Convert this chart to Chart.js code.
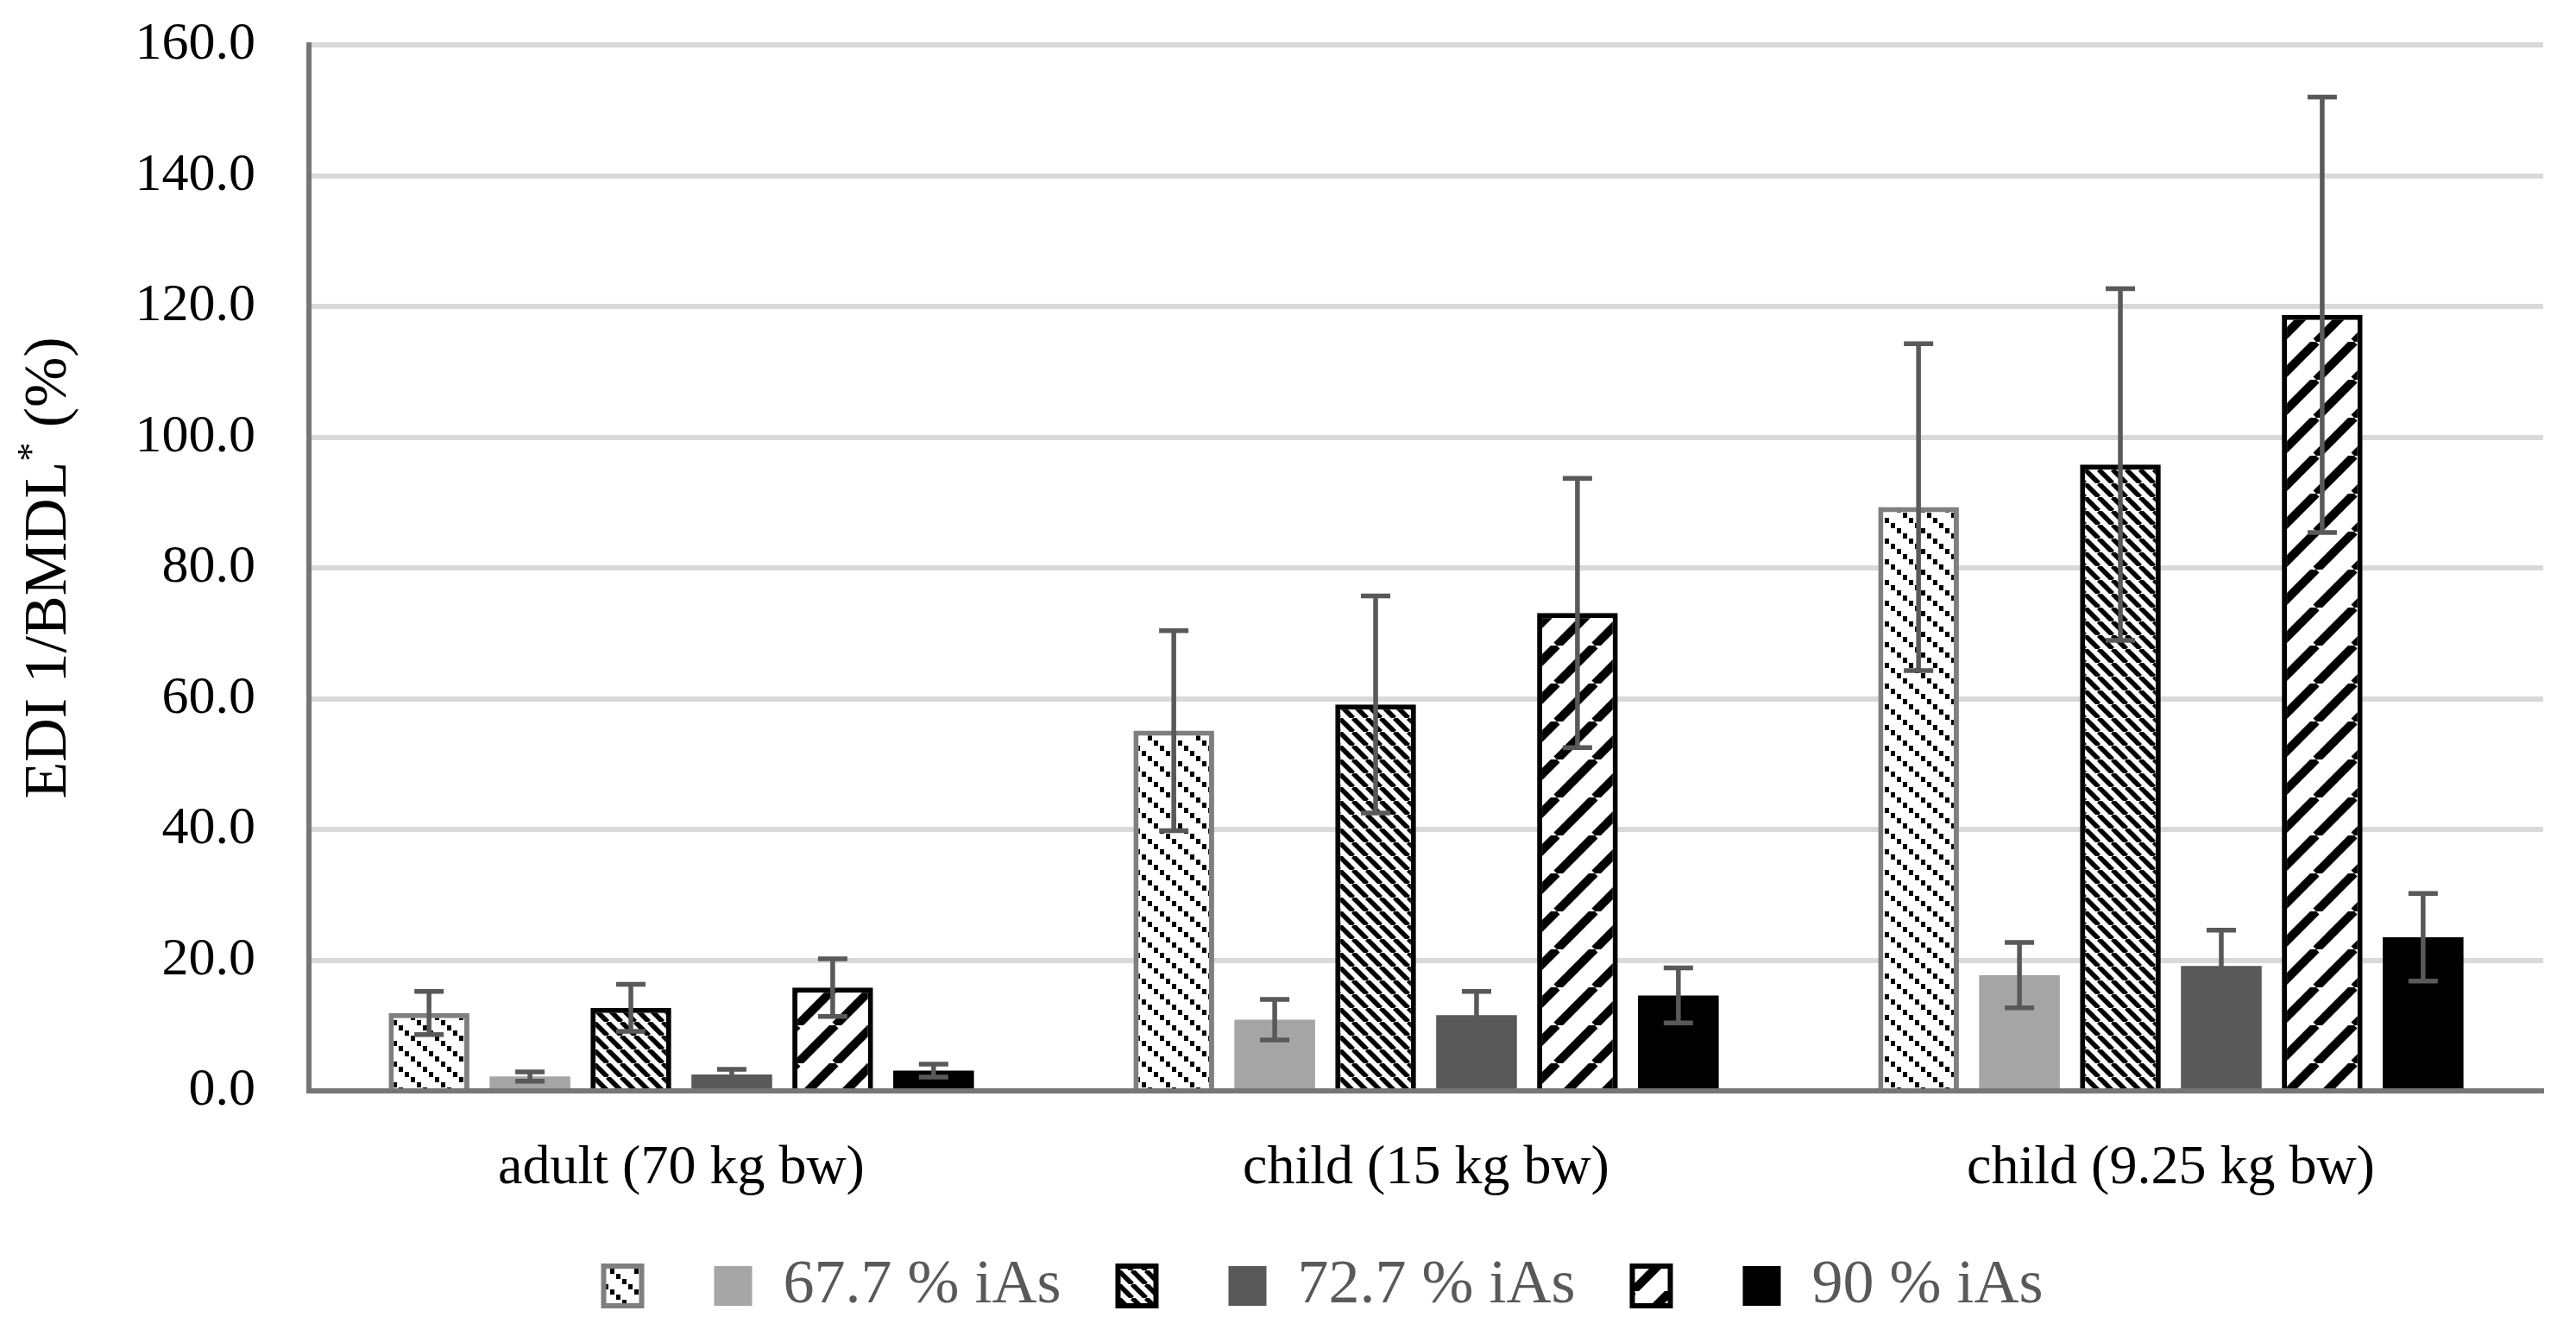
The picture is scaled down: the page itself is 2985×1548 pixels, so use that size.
<!DOCTYPE html>
<html>
<head>
<meta charset="utf-8">
<script src="https://cdn.jsdelivr.net/npm/chart.js@4.4.1/dist/chart.umd.min.js"></script>
<style>
  html, body { margin: 0; padding: 0; background: #fff; }
  #wrap { width: 2985px; height: 1548px; }
</style>
</head>
<body>
<div id="wrap"><canvas id="chart" width="2985" height="1548"></canvas></div>
<script>
// Categories and series
const categories = ['adult (70 kg bw)', 'child (15 kg bw)', 'child (9.25 kg bw)'];
const seriesLabels = ['', '67.7 % iAs ', '', '72.7 % iAs ', '', '90 % iAs'];

const edi1Low = [11.9, 55.1, 89.3];
const edi1LowErr = [3.3, 15.3, 25.0];
const iAs677 = [2.2, 10.9, 17.7];
const iAs677Err = [0.7, 3.1, 5.0];
const edi1Mid = [12.7, 59.1, 95.8];
const edi1MidErr = [3.6, 16.6, 26.9];
const iAs727 = [2.5, 11.6, 19.1];
const iAs727Err = [0.8, 3.6, 5.5];
const edi1High = [15.8, 73.1, 118.7];
const edi1HighErr = [4.4, 20.6, 33.3];
const iAs90 = [3.1, 14.6, 23.5];
const iAs90Err = [1.0, 4.2, 6.7];

const yTicks = [0, 20, 40, 60, 80, 100, 120, 140, 160];

const FONT = "'Liberation Serif', 'DejaVu Serif', serif";

// Pattern fills
function makeTile(w, h, draw) {
    const c = document.createElement('canvas');
    c.width = w;
    c.height = h;
    const t = c.getContext('2d');
    t.fillStyle = '#fff';
    t.fillRect(0, 0, w, h);
    t.fillStyle = '#000';
    t.strokeStyle = '#000';
    draw(t, w, h);
    return document.getElementById('chart').getContext('2d').createPattern(c, 'repeat');
}

// dotted downward diagonal
const dottedDown = makeTile(28, 24, function(t) {
    t.fillRect(0, 0, 5, 6);
    t.fillRect(7, 6, 5, 6);
    t.fillRect(14, 12, 5, 6);
    t.fillRect(21, 18, 5, 6);
});

// dark downward diagonal
const darkDown = makeTile(16, 16, function(t, s) {
    t.lineWidth = 5.6;
    [-s, 0, s].forEach(function(x0) {
        t.beginPath();
        t.moveTo(x0, 0);
        t.lineTo(x0 + s, s);
        t.stroke();
    });
});

// wide upward diagonal
const wideUp = makeTile(44, 44, function(t, s) {
    t.lineWidth = 10;
    [-s, 0, s].forEach(function(x0) {
        t.beginPath();
        t.moveTo(x0, s);
        t.lineTo(x0 + s, 0);
        t.stroke();
    });
});

const errorsByDataset = [edi1LowErr, iAs677Err, edi1MidErr, iAs727Err, edi1HighErr, iAs90Err];

// Error bars drawn from the values through the y scale
const errorBarPlugin = {
    id: 'errorBars',
    afterDatasetsDraw(chart) {
        const ctx = chart.ctx;
        const yScale = chart.scales.y;
        ctx.save();
        ctx.strokeStyle = '#595959';
        ctx.lineWidth = 5.5;
        chart.data.datasets.forEach(function(ds, i) {
            const meta = chart.getDatasetMeta(i);
            const errs = errorsByDataset[i];
            meta.data.forEach(function(bar, j) {
                const v = ds.data[j];
                const top = yScale.getPixelForValue(v + errs[j]);
                const bottom = yScale.getPixelForValue(Math.max(0, v - errs[j]));
                const half = 17;
                ctx.beginPath();
                ctx.moveTo(bar.x, top);
                ctx.lineTo(bar.x, bottom);
                ctx.moveTo(bar.x - half, top);
                ctx.lineTo(bar.x + half, top);
                ctx.moveTo(bar.x - half, bottom);
                ctx.lineTo(bar.x + half, bottom);
                ctx.stroke();
            });
        });
        ctx.restore();
    }
};

// Y axis title with superscript asterisk
const yTitlePlugin = {
    id: 'yTitle',
    afterDraw(chart) {
        const ctx = chart.ctx;
        const area = chart.chartArea;
        const main = 'EDI 1/BMDL';
        const star = '*';
        const rest = ' (%)';
        ctx.save();
        ctx.translate(58, (area.top + area.bottom) / 2);
        ctx.rotate(-Math.PI / 2);
        ctx.fillStyle = '#000';
        ctx.textBaseline = 'middle';
        ctx.textAlign = 'left';
        ctx.font = '70px ' + FONT;
        const w1 = ctx.measureText(main).width;
        const w3 = ctx.measureText(rest).width;
        ctx.font = '44px ' + FONT;
        const w2 = ctx.measureText(star).width;
        let x = -(w1 + w2 + w3) / 2;
        ctx.font = '70px ' + FONT;
        ctx.fillText(main, x, 0);
        x += w1;
        ctx.font = '44px ' + FONT;
        ctx.fillText(star, x, -20);
        x += w2;
        ctx.font = '70px ' + FONT;
        ctx.fillText(rest, x, 0);
        ctx.restore();
    }
};

const values = [edi1Low, iAs677, edi1Mid, iAs727, edi1High, iAs90];
const fills = [dottedDown, '#a5a5a5', darkDown, '#595959', wideUp, '#000000'];
const borders = ['#7f7f7f', '#a5a5a5', '#000000', '#595959', '#000000', '#000000'];
const borderWidths = [6, 0, 6, 0, 6, 0];

const datasets = values.map(function(vals, i) {
    return {
        label: seriesLabels[i],
        data: vals,
        backgroundColor: fills[i],
        borderColor: borders[i],
        borderWidth: borderWidths[i],
        categoryPercentage: 0.813,
        barPercentage: 0.8
    };
});

new Chart(document.getElementById('chart'), {
    type: 'bar',
    data: { labels: categories, datasets: datasets },
    plugins: [errorBarPlugin, yTitlePlugin],
    options: {
        responsive: false,
        animation: false,
        devicePixelRatio: 1,
        layout: { padding: { left: 120, right: 38, top: 52, bottom: 12 } },
        plugins: {
            tooltip: { enabled: false },
            legend: {
                position: 'bottom',
                labels: {
                    font: { family: FONT, size: 72 },
                    color: '#595959',
                    boxWidth: 44,
                    boxHeight: 46,
                    padding: 48
                }
            }
        },
        scales: {
            x: {
                grid: { display: false },
                border: { color: '#767676', width: 6 },
                ticks: {
                    font: { family: FONT, size: 64 },
                    color: '#000',
                    padding: 44
                },
                afterFit: function(scale) { scale.height = 142; }
            },
            y: {
                min: 0,
                max: 160,
                afterBuildTicks: function(scale) {
                    scale.ticks = yTicks.map(function(v) { return { value: v }; });
                },
                grid: {
                    color: function(c) { return c.tick && c.tick.value === 0 ? 'rgba(0,0,0,0)' : '#d9d9d9'; },
                    lineWidth: 6,
                    drawTicks: false
                },
                border: { color: '#767676', width: 6 },
                ticks: {
                    font: { family: FONT, size: 62 },
                    color: '#000',
                    padding: 62,
                    callback: function(v) { return v.toFixed(1); }
                },
                afterFit: function(scale) {
                    scale.width = 238;
                    scale.paddingTop = 0;
                    scale.paddingBottom = 0;
                }
            }
        }
    }
});
</script>
</body>
</html>
